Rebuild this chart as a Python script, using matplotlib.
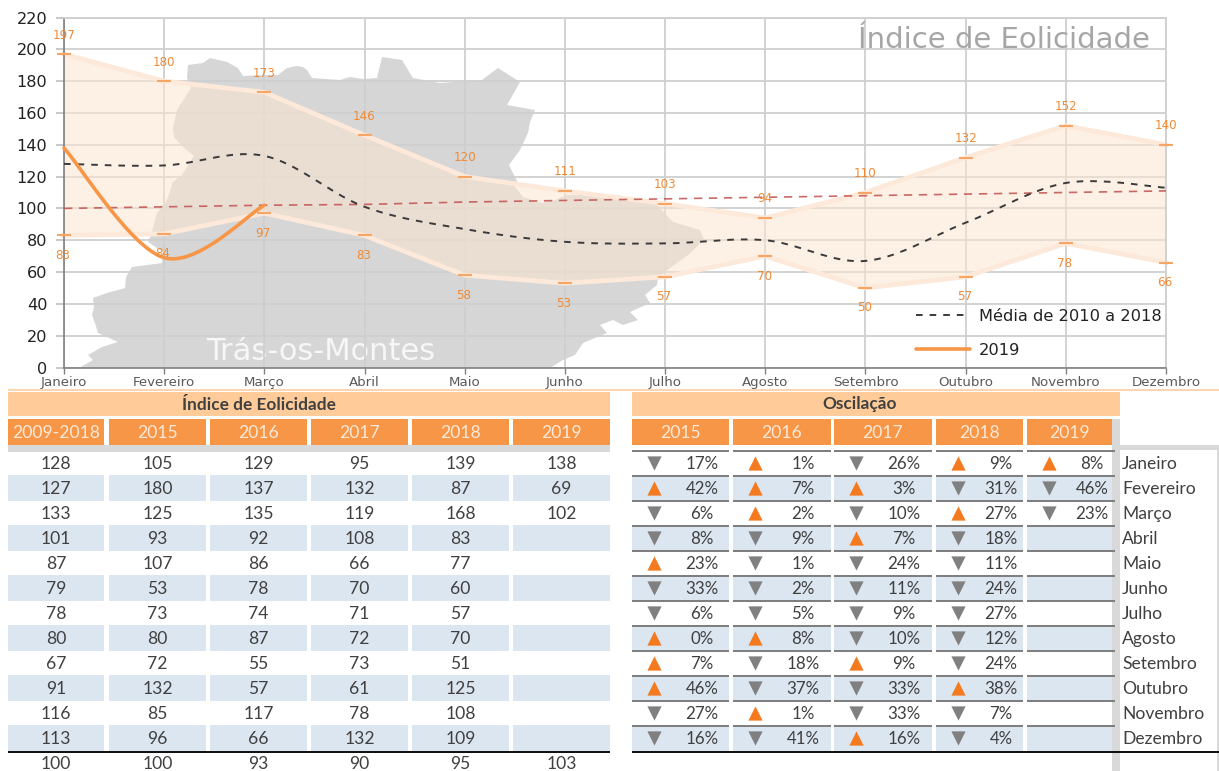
import numpy as np
import matplotlib
matplotlib.use("Agg")
import matplotlib.pyplot as plt
from matplotlib.patches import Rectangle, Polygon
from matplotlib.transforms import ScaledTranslation

months = ["Janeiro", "Fevereiro", "Março", "Abril", "Maio", "Junho", "Julho",
          "Agosto", "Setembro", "Outubro", "Novembro", "Dezembro"]
upper = [197, 180, 173, 146, 120, 111, 103, 94, 110, 132, 152, 140]
lower = [83, 84, 97, 83, 58, 53, 57, 70, 50, 57, 78, 66]
media = [128, 127, 133, 101, 87, 79, 78, 80, 67, 91, 116, 113]
trend = [100, 101, 102, 102.5, 104, 105, 106, 107, 108, 109, 110, 111]
y2019 = [138, 69, 102]

idx_years = ["2009-2018", "2015", "2016", "2017", "2018", "2019"]
idx_2009 = [128, 127, 133, 101, 87, 79, 78, 80, 67, 91, 116, 113]
idx_2015 = [105, 180, 125, 93, 107, 53, 73, 80, 72, 132, 85, 96]
idx_2016 = [129, 137, 135, 92, 86, 78, 74, 87, 55, 57, 117, 66]
idx_2017 = [95, 132, 119, 108, 66, 70, 71, 72, 73, 61, 78, 132]
idx_2018 = [139, 87, 168, 83, 77, 60, 57, 70, 51, 125, 108, 109]
idx_2019 = [138, 69, 102]
idx_total = [100, 100, 93, 90, 95, 103]

osc_years = ["2015", "2016", "2017", "2018", "2019"]
osc_2015 = [-17, 42, -6, -8, 23, -33, -6, 0, 7, 46, -27, -16]
osc_2016 = [1, 7, 2, -9, -1, -2, -5, 8, -18, -37, 1, -41]
osc_2017 = [-26, 3, -10, 7, -24, -11, -9, -10, 9, -33, -33, 16]
osc_2018 = [9, -31, 27, -18, -11, -24, -27, -12, -24, 38, -7, -4]
osc_2019 = [8, -46, -23]

# Background silhouette outline, in picture pixels
map_outline = [
    (79, 368), (93, 360), (88, 355), (102, 347), (118, 342), (98, 333), (95, 323), (92, 315), (94, 307),
    (93, 298), (107, 293), (125, 288), (126, 277), (132, 267), (162, 263), (163, 252), (148, 242), (152, 232),
    (157, 213), (167, 200), (173, 182), (182, 175), (194, 156), (183, 147), (174, 137), (173, 128), (177, 110),
    (191, 88), (187, 78), (188, 65), (203, 63), (210, 58), (227, 62), (238, 68), (243, 76), (263, 75),
    (278, 75), (287, 68), (297, 66), (303, 67), (307, 70), (312, 78), (340, 80), (350, 77), (363, 79),
    (377, 78), (382, 57), (402, 60), (413, 78), (440, 83), (482, 80), (498, 68), (520, 82), (507, 105),
    (535, 110), (530, 122), (528, 133), (520, 150), (509, 165), (518, 183), (515, 187), (523, 197), (542, 203),
    (555, 200), (567, 195), (617, 195), (657, 205), (673, 222), (700, 230), (704, 240), (688, 255), (670, 268),
    (658, 278), (657, 285), (645, 295), (650, 303), (630, 312), (638, 320), (623, 325), (613, 320), (600, 325),
    (607, 333), (583, 343), (575, 355), (563, 360), (550, 368)]

W, H = 1219, 771
plt.rcParams["font.family"] = ["DejaVu Sans"]
fig = plt.figure(figsize=(W / 100, H / 100), dpi=100, facecolor="white")

bg = fig.add_axes([0, 0, 1, 1], zorder=0)
bg.set_xlim(0, W); bg.set_ylim(H, 0); bg.axis("off")
bg.add_patch(Polygon(np.array(map_outline), closed=True, fc="#D6D6D6", ec="none"))
bg.text(321, 352, "Trás-os-Montes", color="#F7F7F7", fontsize=22, family="DejaVu Sans",
        ha="center", va="center")

# ---------- chart ----------
L, R, T, B = 64, 1166, 17.5, 367.5
ax = fig.add_axes([L / W, 1 - B / H, (R - L) / W, (B - T) / H], zorder=1)
ax.patch.set_visible(False)
x = np.arange(12)
ax.set_xlim(0, 11); ax.set_ylim(0, 220)
ax.set_yticks(range(0, 221, 20))
ax.set_xticks(x); ax.set_xticklabels(months, fontsize=9.6, color="#595959")
shifts = [-3, -3, -3, -3, -2, -1, 0, 0, 1, 3, 4, 4]
for lab, dx in zip(ax.get_xticklabels(), shifts):
    lab.set_transform(lab.get_transform() + ScaledTranslation(dx / 100, 0, fig.dpi_scale_trans))
ax.tick_params(axis="y", labelsize=11.6, labelcolor="#222222", color="#BFBFBF", length=6, width=1.2, pad=6)
ax.tick_params(axis="x", color="#808080", length=4, width=1, pad=2)
ax.grid(True, color="#CFCFCF", lw=1.3, zorder=0)
ax.set_axisbelow(True)
for s in ["top", "right"]:
    ax.spines[s].set_color("#CFCFCF"); ax.spines[s].set_linewidth(1.3)
for s in ["left", "bottom"]:
    ax.spines[s].set_color("#808080"); ax.spines[s].set_linewidth(1.2)


def smooth(xs, ys, n=24):
    """Excel-like smoothed line through the given values (Catmull-Rom)."""
    p = np.column_stack([xs, ys]).astype(float)
    p = np.vstack([p[0], p, p[-1]])
    out = []
    for i in range(1, len(p) - 2):
        t = np.linspace(0, 1, n)[:, None]
        a, b, c, d = p[i - 1], p[i], p[i + 1], p[i + 2]
        out.append(0.5 * (2 * b + (c - a) * t + (2 * a - 5 * b + 4 * c - d) * t ** 2
                          + (3 * b - a - 3 * c + d) * t ** 3))
    out = np.vstack(out)
    return out[:, 0], out[:, 1]


ax.fill_between(x, lower, upper, color="#FCE4D0", alpha=0.55, lw=0, zorder=1.5)
ax.plot(x, upper, color="#FDE9D9", lw=3.4, zorder=2, clip_on=False)
ax.plot(x, lower, color="#FDE9D9", lw=3.4, zorder=2, clip_on=False)
ax.plot(x, upper, ls="none", marker="_", ms=10, mew=1.5, color="#F6A565", zorder=3, clip_on=False)
ax.plot(x, lower, ls="none", marker="_", ms=10, mew=1.5, color="#F6A565", zorder=3, clip_on=False)
for xi, u, l in zip(x, upper, lower):
    ax.annotate(str(u), (xi, u), xytext=(0, 19), textcoords="offset pixels", ha="center", va="center",
                fontsize=8.6, color="#F08A35", zorder=5, annotation_clip=False)
    ax.annotate(str(l), (xi, l), xytext=(-1, -20), textcoords="offset pixels", ha="center", va="center",
                fontsize=8.6, color="#F08A35", zorder=5, annotation_clip=False)

ax.plot(x, trend, color="#C0504D", lw=1.2, ls=(0, (5, 4)), zorder=4, alpha=0.85)
sx, sy = smooth(x, media)
ax.plot(sx, sy, color="#3A3A3A", lw=1.4, ls=(0, (3.4, 3.6)), zorder=4.2, label="Média de 2010 a 2018")
s19x, s19y = smooth(x[:3], y2019)
ax.plot(s19x, s19y, color="#F79646", lw=2.6, zorder=4.4, label="2019", solid_capstyle="round", clip_on=False)

ax.legend(loc="lower left", bbox_to_anchor=((918 - L - 2) / (R - L), (B - 358) / (B - T)),
          frameon=False, fontsize=11.7, labelspacing=1.18, handlelength=3.3, handletextpad=0.55,
          borderpad=0, borderaxespad=0, labelcolor="#222222")

bg2 = fig.add_axes([0, 0, 1, 1], zorder=2)
bg2.set_xlim(0, W); bg2.set_ylim(H, 0); bg2.axis("off"); bg2.patch.set_visible(False)
bg2.text(1150, 40, "Índice de Eolicidade", color="#A6A6A6", fontsize=21, ha="right", va="center",
         family="DejaVu Sans")

# ---------- tables ----------
TBL = "Lato"
ORANGE, PEACH, BLUE, GREY, TXT = "#F79646", "#FFCC99", "#DCE6F1", "#D9D9D9", "#404040"
t = bg2


def rect(x0, y0, x1, y1, c, z=1):
    t.add_patch(Rectangle((x0, y0), x1 - x0, y1 - y0, fc=c, ec="none", zorder=z))


def row_top(i):
    return 450 + 25 * i


rect(8, 389, W, 391, "#FCD5B4")

# left table
left_cols = [(8, 104), (109, 206), (210, 307), (311, 408), (412, 509), (513, 610)]
idx_cols = [idx_2009, idx_2015, idx_2016, idx_2017, idx_2018, idx_2019]
rect(8, 392, 610, 416, PEACH)
t.text(259, 404.5, "Índice de Eolicidade", fontsize=12.4, fontweight="bold", color=TXT, family=TBL,
       ha="center", va="center")
rect(8, 445, 610, 452, GREY)
for (x0, x1), yr, vals, tot in zip(left_cols, idx_years, idx_cols, idx_total):
    rect(x0, 419, x1, 445, ORANGE)
    cx = (x0 + x1) / 2
    t.text(cx, 433.5, yr, fontsize=12.6, color="#FDE9D9", family=TBL, ha="center", va="center")
    for i in range(12):
        if i % 2 == 1:
            rect(x0, row_top(i), x1, row_top(i) + 26, BLUE)
        if i < len(vals):
            t.text(cx, row_top(i) + 14, str(vals[i]), fontsize=12.6, color=TXT, family=TBL,
                   ha="center", va="center")
    t.text(cx, 764, str(tot), fontsize=12.6, color=TXT, family=TBL, ha="center", va="center")
rect(8, 751, 610, 753, "#111111", 3)

# right table
right_cols = [(631.5, 729), (733, 831), (834, 932), (936, 1023), (1027, 1112)]
tri_x = [654, 755, 856, 957.5, 1049]
pct_x = [702, 803, 904, 1001, 1092]
osc_cols = [osc_2015, osc_2016, osc_2017, osc_2018, osc_2019]
rect(631.5, 392, 1120, 416, PEACH)
t.text(860, 404.5, "Oscilação", fontsize=12.4, fontweight="bold", color=TXT, family=TBL,
       ha="center", va="center")
rect(1112, 419, 1120, H, GREY)
rect(1120, 445, W, 450, GREY)
rect(1217, 445, W, H, GREY)
for (x0, x1), yr, vals, tx, px in zip(right_cols, osc_years, osc_cols, tri_x, pct_x):
    rect(x0, 419, x1, 445, ORANGE)
    t.text((x0 + x1) / 2, 433.5, yr, fontsize=12.6, color="#FDE9D9", family=TBL, ha="center", va="center")
    for i in range(12):
        if i % 2 == 1:
            rect(x0, row_top(i), min(x1, 1112), row_top(i) + 26, BLUE)
        rect(x0, row_top(i), x1 + (3 if x1 == 1112 else 0), row_top(i) + 2, "#7F7F7F", 2)
        if i < len(vals):
            v = vals[i]
            up = v >= 0
            # the pixel axis runs downwards, so its marker shapes are flipped
            t.scatter([tx], [row_top(i) + 12.5], marker="v" if not up else "^", s=105, lw=0, zorder=3,
                      color="#F47A20" if up else "#808080")
            t.text(px, row_top(i) + 14, f"{abs(v)}%", fontsize=12.2, color=TXT, family=TBL,
                   ha="center", va="center")
for i, m in enumerate(months):
    t.text(1122, row_top(i) + 14, m, fontsize=12.6, color=TXT, family=TBL, ha="left", va="center")
rect(631.5, 751, W, 753, "#111111", 3)

fig.savefig("out.png", dpi=100)
